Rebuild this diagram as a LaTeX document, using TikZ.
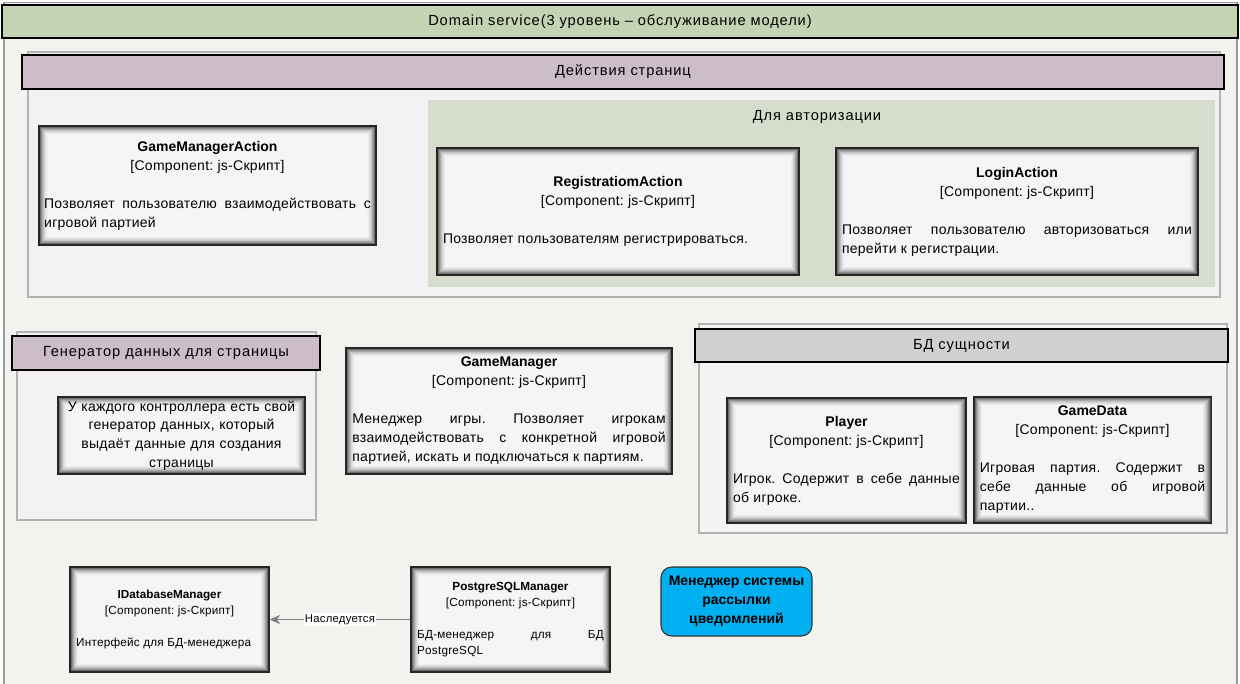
\documentclass[tikz,border=0pt]{standalone}
\usepackage{fontspec}
\setmainfont{Liberation Sans}[LetterSpace=2,BoldFeatures={LetterSpace=0}]
\newfontfamily\hdrfam{Liberation Sans}[LetterSpace=6]
\frenchspacing
\usetikzlibrary{arrows.meta}
\definecolor{bgc}{HTML}{F2F3EF}
\definecolor{titlec}{HTML}{C4D3B4}
\definecolor{grpc}{HTML}{F4F1F4}
\definecolor{mauve}{HTML}{CDBDC8}
\definecolor{authc}{HTML}{D6DDCD}
\definecolor{boxc}{HTML}{F5F5F5}
\definecolor{hdrgray}{HTML}{D0D0D0}
\definecolor{bdc}{HTML}{F4F4F2}
\definecolor{bluec}{HTML}{00B0F0}
\newcommand\comptext[2]{{\centering\textbf{#1}\par[Component: js-Скрипт]\par}\vspace{\baselineskip}\noindent #2}
\tikzset{
  hdrfont/.style={font=\hdrfam\fontsize{11}{13}\selectfont},
  bar/.style={draw=black, line width=0.8pt, hdrfont, inner sep=0pt},
  grp/.style={draw=black!30, line width=0.9pt, inner sep=0pt},
  comp/.style={draw=black!85, line width=1pt, fill=boxc, inner xsep=4.5pt, inner ysep=0pt,
    align=justify, font=\fontsize{10.5}{14.25}\selectfont,
    path picture={
      \foreach \k [evaluate=\k as \op using {0.85*(1-\k/10)^2}] in {1,...,9}{
        \draw[black, opacity=\op, line width=0.8pt]
          ([shift={(\k*0.75pt-0.4pt,\k*0.75pt-0.4pt)}]path picture bounding box.south west) rectangle
          ([shift={(-\k*0.75pt+0.4pt,-\k*0.75pt+0.4pt)}]path picture bounding box.north east);
      }}},
  smallcomp/.style={comp, font=\fontsize{8.8}{12}\selectfont},
  inherit/.style={draw=black!50, line width=1.3pt, -{Stealth[length=8pt,width=7pt]}},
}
\begin{document}
\begin{tikzpicture}[x=0.75pt,y=-0.75pt]
\useasboundingbox (0,0) rectangle (1240,683);
\fill[white] (0,0) rectangle (1240,683);
% outer frame
\node[draw=black!40, fill=bgc, line width=0.9pt, minimum width=924.75pt, minimum height=520pt, inner sep=0pt] (frame) at (620.5,349) {};
\node[bar, fill=titlec, minimum width=927pt, minimum height=24.75pt] (title) at (620,21.5) {Domain service(3 уровень – обслуживание модели)};

% Actions group
\node[grp, fill=grpc, minimum width=894pt, minimum height=183.75pt] (actions) at (624,174.5) {};
\node[bar, fill=mauve, minimum width=901.5pt, minimum height=25.5pt] (actionshdr) at (623,72) {Действия страниц};
\node[fill=authc, minimum width=590.25pt, minimum height=140.25pt, inner sep=0pt] (auth) at (821.5,193.5) {};
\node[hdrfont] (authlbl) at (817,117) {Для авторизации};

\node[comp, minimum width=252.75pt, minimum height=89.25pt, text width=245pt, inner xsep=3.9pt] (gma) at (207.5,185.5)
  {\comptext{GameManagerAction}{Позволяет пользователю взаимодействовать с игровой партией}};
\node[comp, minimum width=271.5pt, minimum height=95.25pt, text width=262.5pt] (reg) at (618,211.5)
  {\comptext{RegistratiomAction}{Позволяет пользователям регистрироваться.}};
\node[comp, minimum width=271.5pt, minimum height=95.25pt, text width=262.5pt] (login) at (1017,211.5)
  {\comptext{LoginAction}{Позволяет пользователю авторизоваться или перейти к регистрации.}};

% Generator group
\node[grp, fill=grpc, minimum width=224.25pt, minimum height=141pt] (gen) at (166.5,426) {};
\node[bar, fill=mauve, minimum width=231pt, minimum height=25.5pt] (genhdr) at (166,353) {Генератор данных для страницы};
\node[comp, minimum width=185.25pt, minimum height=57.75pt, text width=176pt, align=center,
  font=\fontsize{10.5}{14}\selectfont] (geninner) at (181.5,435.5)
  {У каждого контроллера есть свой\\генератор данных, который\\выдаёт данные для создания\\страницы};

% GameManager
\node[comp, minimum width=244.5pt, minimum height=94.5pt, text width=235pt] (gm) at (509,411)
  {\comptext{GameManager}{Менеджер игры. Позволяет игрокам взаимодействовать с конкретной игровой партией, искать и подключаться к партиям.}};

% DB entities group
\node[grp, fill=bdc, minimum width=396pt, minimum height=156.75pt] (bd) at (963,428.5) {};
\node[bar, fill=hdrgray, minimum width=399.75pt, minimum height=24.75pt] (bdhdr) at (961.5,345.5) {БД сущности};
\node[comp, minimum width=179.25pt, minimum height=93.75pt, text width=170pt] (player) at (846.5,460.5)
  {\comptext{Player}{Игрок. Содержит в себе данные об игроке.}};
\node[comp, minimum width=177.75pt, minimum height=94.5pt, text width=169pt] (gamedata) at (1092.5,460)
  {\comptext{GameData}{Игровая партия. Содержит в\linebreak себе данные об игровой\linebreak партии..}};

% bottom
\node[smallcomp, minimum width=149.25pt, minimum height=78.75pt, text width=140pt] (idb) at (169.5,619.5)
  {\comptext{IDatabaseManager}{Интерфейс для БД-менеджера}};
\node[smallcomp, minimum width=149.25pt, minimum height=78.75pt, text width=140pt] (pg) at (510.5,619.5)
  {\comptext{PostgreSQLManager}{БД-менеджер для БД\linebreak PostgreSQL}};
\draw[inherit] (pg.west) -- node[fill=white, inner sep=1pt, font=\fontsize{8.5}{10}\selectfont, text=black] (inhlbl) {Наследуется} (idb.east);

\node[draw=black!80, line width=0.8pt, fill=bluec, rounded corners=8pt, minimum width=113.25pt, minimum height=51.75pt,
  align=center, font=\bfseries\fontsize{10.5}{14.25}\selectfont, inner sep=0pt] (notif) at (736.5,601.5)
  {Менеджер системы\\рассылки\\цведомлений};
\end{tikzpicture}
\end{document}
